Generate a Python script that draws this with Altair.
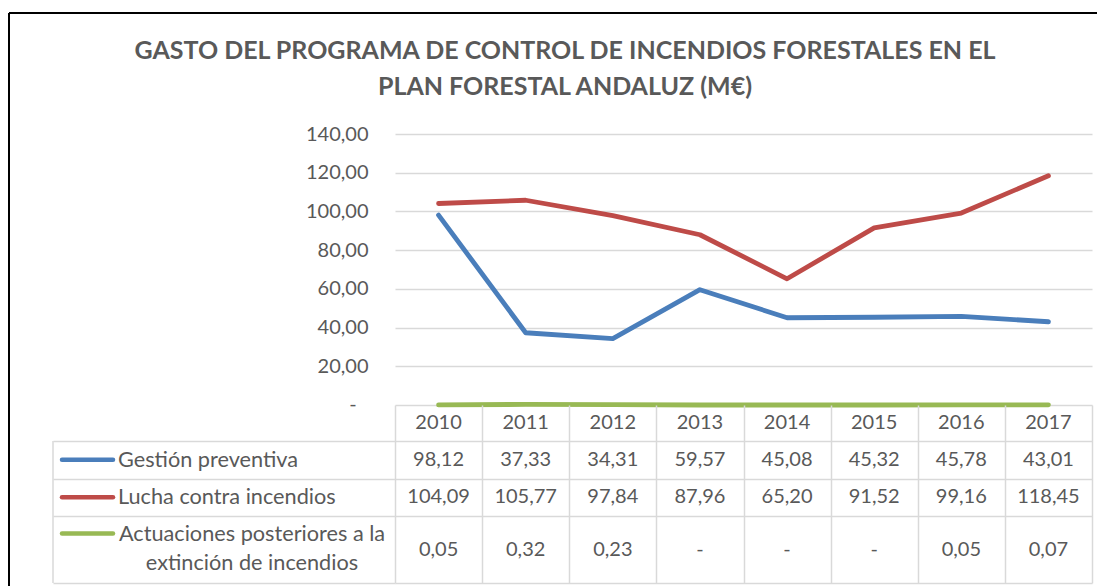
import altair as alt
import pandas as pd

# ---------------- data ----------------
YEARS = [2010, 2011, 2012, 2013, 2014, 2015, 2016, 2017]
SERIES = [
    "Gestión preventiva",
    "Lucha contra incendios",
    "Actuaciones posteriores a la extinción de incendios",
]
ROW_LABELS = [
    "Gestión preventiva",
    "Lucha contra incendios",
    "Actuaciones posteriores a la\nextinción de incendios",
]
GESTION = [98.12, 37.33, 34.31, 59.57, 45.08, 45.32, 45.78, 43.01]
LUCHA = [104.09, 105.77, 97.84, 87.96, 65.20, 91.52, 99.16, 118.45]
ACTUACIONES = [0.05, 0.32, 0.23, 0, 0, 0, 0.05, 0.07]
COLORS = ["#4A7EBB", "#BE4B48", "#98B954"]
TITLE = [
    "GASTO DEL PROGRAMA DE CONTROL DE INCENDIOS FORESTALES EN EL",
    "PLAN FORESTAL ANDALUZ (M€)",
]
Y_TICKS = [0, 20, 40, 60, 80, 100, 120, 140]

# ---------------- layout constants ----------------
PLOT_W = 697
TOP_H = 271
ROW_EDGES = [0, 36, 73.5, 111, 178]
TABLE_H = ROW_EDGES[-1]
LABEL_COL_W = 342
GRID = "#D9D9D9"
TXT = "#595959"
FONT = "Lato"


def fmt(v):
    return "-" if v == 0 else f"{v:.2f}".replace(".", ",")


def center(i):
    return (ROW_EDGES[i] + ROW_EDGES[i + 1]) / 2


values = [GESTION, LUCHA, ACTUACIONES]

line_rows = []
for s, vals in zip(SERIES, values):
    for y, v in zip(YEARS, vals):
        line_rows.append({"year": y, "series": s, "value": v})
line_df = pd.DataFrame(line_rows)

cell_rows = [{"year": y, "ry": center(0), "text": str(y)} for y in YEARS]
for i, vals in enumerate(values):
    for y, v in zip(YEARS, vals):
        cell_rows.append({"year": y, "ry": center(i + 1), "text": fmt(v)})
cells_df = pd.DataFrame(cell_rows)

FIRST_LINE_3 = center(3) - 16
label_df = pd.DataFrame({"ry": [center(1), center(2)], "label": ROW_LABELS[:2]})
label3_df = pd.DataFrame({"ry": [FIRST_LINE_3], "label": [ROW_LABELS[2]]})
key_df = pd.DataFrame({"ky": [center(1), center(2), FIRST_LINE_3], "series": SERIES})
border_df = pd.DataFrame({"y0": [ROW_EDGES[1]], "y1": [ROW_EDGES[-1]]})
frame_df = pd.DataFrame({"k": [0]})
zero_df = pd.DataFrame({"value": [Y_TICKS[0]], "label": [fmt(Y_TICKS[0])]})

color_scale = alt.Scale(domain=SERIES, range=COLORS)

# ---------------- top chart (lines) ----------------
x_top = alt.X("year:Q", scale=alt.Scale(domain=[2009.5, 2017.5], nice=False, zero=False), axis=None)
y_scale_top = alt.Scale(domain=[0, 140], nice=False)
y_axis_top = alt.Axis(
    values=Y_TICKS,
    labelExpr="datum.value == 0 ? '' : replace(format(datum.value, '.2f'), '.', ',')",
    grid=True,
    gridColor=GRID,
    gridWidth=1.3,
    domain=False,
    ticks=False,
    labelFont=FONT,
    labelFontSize=20,
    labelColor=TXT,
    labelPadding=27,
    title=None,
)
lines = alt.Chart(line_df).mark_line(strokeWidth=4.8, strokeCap="round", strokeJoin="round").encode(
    x=x_top,
    y=alt.Y("value:Q", scale=y_scale_top, axis=y_axis_top),
    color=alt.Color("series:N", scale=color_scale, legend=None),
)
# accounting-style "-" for the zero tick, placed like Excel does (left of the decimals)
zero_label = alt.Chart(zero_df).mark_text(font=FONT, fontSize=20, color=TXT, align="center").encode(
    x=alt.value(-42),
    y=alt.Y("value:Q", scale=y_scale_top, axis=y_axis_top),
    text="label:N",
)
frame_left = alt.Chart(frame_df).mark_rule(color="black", strokeWidth=2).encode(
    x=alt.value(-386), y=alt.value(-121), y2=alt.value(452)
)
frame_top = alt.Chart(frame_df).mark_rule(color="black", strokeWidth=2).encode(
    x=alt.value(-386), x2=alt.value(702), y=alt.value(-121)
)
top_chart = alt.layer(lines, zero_label, frame_left, frame_top).properties(width=PLOT_W, height=TOP_H)

# ---------------- data table ----------------
xs = alt.Scale(domain=[2009.5, 2017.5], nice=False, zero=False)
x_axis = alt.Axis(
    values=[2009.5 + i for i in range(9)],
    grid=True, gridColor=GRID, gridWidth=1.5,
    labels=False, ticks=False, domain=False, title=None,
)
ys = alt.Scale(domain=[0, TABLE_H], reverse=True, nice=False, zero=False)
y_axis = alt.Axis(
    values=ROW_EDGES[1:],
    grid=True, gridColor=GRID, gridWidth=1.5,
    ticks=True, tickSize=LABEL_COL_W, tickColor=GRID, tickWidth=1.5,
    labels=False, domain=False, title=None,
)

cells = alt.Chart(cells_df).mark_text(font=FONT, fontSize=20, color=TXT).encode(
    x=alt.X("year:Q", scale=xs, axis=x_axis),
    y=alt.Y("ry:Q", scale=ys, axis=y_axis),
    text="text:N",
)
labels12 = alt.Chart(label_df).mark_text(font=FONT, fontSize=21.7, color=TXT, align="left").encode(
    x=alt.value(-277),
    y=alt.Y("ry:Q", scale=ys, axis=y_axis),
    text="label:N",
)
labels3 = alt.Chart(label3_df).mark_text(
    font=FONT, fontSize=21.7, color=TXT, align="center", lineBreak="\n", lineHeight=29
).encode(
    x=alt.value(-143),
    y=alt.Y("ry:Q", scale=ys, axis=y_axis),
    text="label:N",
)
keys = alt.Chart(key_df).mark_rule(strokeWidth=4.5, strokeCap="round").encode(
    x=alt.value(-333),
    x2=alt.value(-282),
    y=alt.Y("ky:Q", scale=ys, axis=y_axis),
    color=alt.Color("series:N", scale=color_scale, legend=None),
)
left_border = alt.Chart(border_df).mark_rule(color=GRID, strokeWidth=1.5).encode(
    x=alt.value(-LABEL_COL_W),
    y=alt.Y("y0:Q", scale=ys, axis=y_axis),
    y2="y1:Q",
)
table_chart = alt.layer(cells, labels12, labels3, keys, left_border).properties(
    width=PLOT_W, height=TABLE_H
)

chart = (
    alt.vconcat(top_chart, table_chart, spacing=0, bounds="flush")
    .resolve_scale(x="independent", y="independent", color="independent")
    .properties(
        title=alt.TitleParams(
            text=TITLE,
            font=FONT,
            fontSize=25,
            fontWeight="bold",
            color=TXT,
            anchor="middle",
            baseline="top",
            offset=-87.5,
            lineHeight=36,
            dx=12,
        ),
        padding={"left": 0, "top": 4, "right": 0, "bottom": 0},
        background="white",
    )
    .configure_view(strokeWidth=0)
)

chart.save("out.html", embed_options={"renderer": "svg", "actions": False})
